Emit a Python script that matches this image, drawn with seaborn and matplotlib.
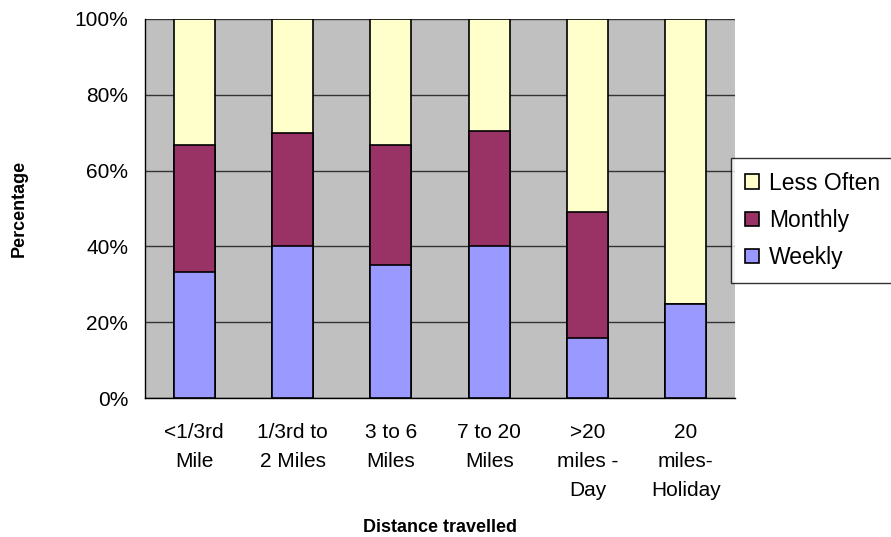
import matplotlib
matplotlib.use("Agg")
import matplotlib.pyplot as plt
import matplotlib.patches as mpatches
import seaborn as sns
import pandas as pd
import numpy as np

categories = ["<1/3rd\nMile", "1/3rd to\n2 Miles", "3 to 6\nMiles", "7 to 20\nMiles",
              ">20\nmiles -\nDay", "20\nmiles-\nHoliday"]
weekly = [33.3, 40.0, 35.2, 40.0, 15.7, 24.9]
monthly = [33.4, 30.0, 31.5, 30.4, 33.5, 0.0]
less_often = [33.3, 30.0, 33.3, 29.6, 50.8, 75.1]

series_names = ["Less Often", "Monthly", "Weekly"]
colors = {"Weekly": "#9999FF", "Monthly": "#993366", "Less Often": "#FFFFCC"}

sns.set_style("white")
plt.rcParams["font.family"] = ["Liberation Sans", "DejaVu Sans"]
plt.rcParams["text.color"] = "black"
plt.rcParams["axes.labelcolor"] = "black"
plt.rcParams["xtick.color"] = "black"
plt.rcParams["ytick.color"] = "black"

w = np.array(weekly)
m = np.array(monthly)
l = np.array(less_often)
df = pd.DataFrame({
    "cat": categories,
    "top_less": w + m + l,
    "top_monthly": w + m,
    "top_weekly": w,
})

fig = plt.figure(figsize=(8.91, 5.37), dpi=100)
ax = fig.add_axes([145/891, 1-398/537, 590/891, 379/537])
ax.set_facecolor("#C0C0C0")
ax.set_axisbelow(True)
ax.yaxis.grid(True, color="#333333", linewidth=1.0)
ax.xaxis.grid(False)

for col, name in [("top_less", "Less Often"), ("top_monthly", "Monthly"), ("top_weekly", "Weekly")]:
    sns.barplot(data=df, x="cat", y=col, color=colors[name], saturation=1,
                width=0.42, edgecolor="black", linewidth=1.2, ax=ax, zorder=3)

ax.set_ylim(0, 100)
ax.set_xlim(-0.5, len(categories) - 0.5)
ax.set_yticks([0, 20, 40, 60, 80, 100])
ax.set_yticklabels([f"{v}%" for v in [0, 20, 40, 60, 80, 100]], fontsize=15)
ax.set_xticks(range(len(categories)))
ax.set_xticklabels(categories, fontsize=15, linespacing=1.65, va="top")
ax.set_xticks(np.arange(-0.5, len(categories)), minor=True)
ax.tick_params(axis="x", which="major", length=0, pad=18)
ax.tick_params(axis="x", which="minor", length=6, width=1, color="black", direction="out")
ax.tick_params(axis="y", which="major", length=6, width=1, color="black", direction="out", pad=6)
ax.xaxis.set_tick_params(bottom=True)

for s in ["top", "right"]:
    ax.spines[s].set_visible(False)
for s in ["left", "bottom"]:
    ax.spines[s].set_color("black")
    ax.spines[s].set_linewidth(1.0)

ax.set_xlabel("Distance travelled", fontsize=13, fontweight="bold", labelpad=14)
ax.set_ylabel("Percentage", fontsize=13, fontweight="bold", labelpad=34)

handles = [mpatches.Patch(facecolor=colors[n], edgecolor="black", linewidth=1.2, label=n)
           for n in series_names]
leg = fig.legend(handles=handles, loc="upper left", bbox_to_anchor=(731/891, 1-158/537),
                 fontsize=16.5, frameon=True, fancybox=False, edgecolor="black",
                 handlelength=0.6, handleheight=0.6, handletextpad=0.45,
                 labelspacing=0.62, borderpad=0.6, borderaxespad=0)
leg.get_frame().set_linewidth(1.0)

fig.savefig("out.png", dpi=100)
